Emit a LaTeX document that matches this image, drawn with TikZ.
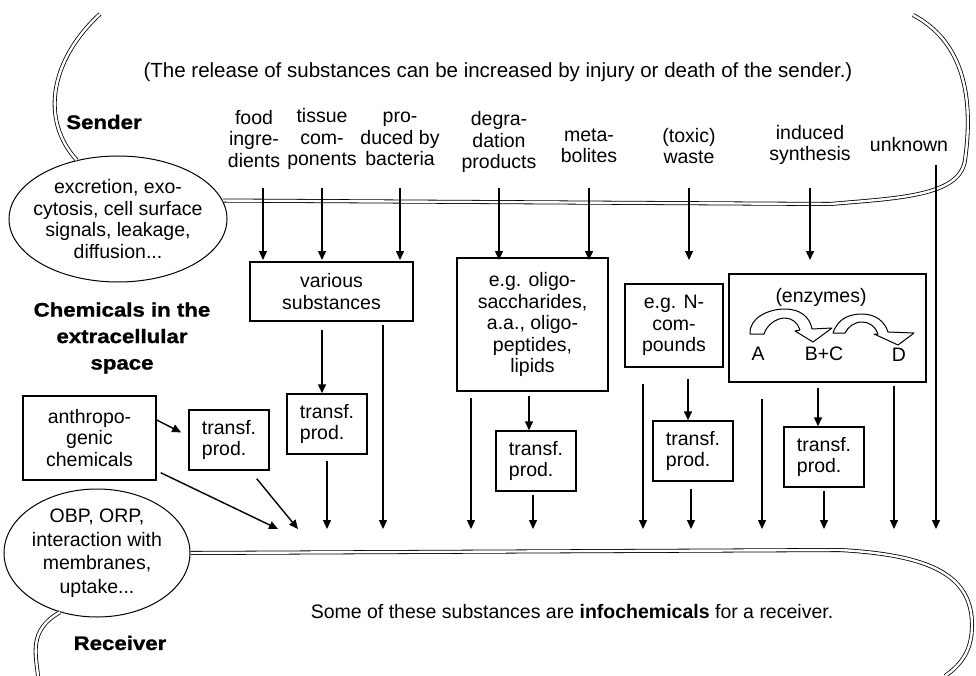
\documentclass[tikz,border=0pt]{standalone}
\usepackage{fontspec}
\setmainfont{Liberation Sans}
\newfontfamily\heavyfont{Liberation Sans}[FakeStretch=1.14, FakeBold=1.2]
\usetikzlibrary{arrows.meta,shapes.geometric}

\tikzset{
  txt/.style={align=center, inner sep=0pt, font=\fontsize{19.5}{21.5}\selectfont},
  head/.style={align=center, inner sep=0pt, font=\heavyfont\bfseries\fontsize{19.5}{26.5}\selectfont},
  box/.style={txt, draw, line width=1.4pt},
  tpbox/.style={box, align=left, minimum width=80pt, minimum height=60pt},
  arr/.style={line width=1.4pt, -{Triangle[length=9pt,width=8pt]}},
  membrane/.style={double, double distance=2.4pt, line width=0.8pt},
  cell/.style={draw, ellipse, line width=1pt, inner sep=0pt},
  swoop/.style={line width=1pt, fill=white, line join=round},
}

\begin{document}
\begin{tikzpicture}[x=1pt,y=-1pt]
\useasboundingbox (0,0) rectangle (976,676);

% sender and receiver cells
\node[cell, minimum width=218pt, minimum height=126pt] (sender) at (118,219) {};
\node[txt] (sendtxt) at (sender) {excretion, exo-\\cytosis, cell surface\\signals, leakage,\\diffusion...};
\node[cell, minimum width=186pt, minimum height=128pt] (receiver) at (97,553) {};
\node[txt, font=\fontsize{19.5}{23.5}\selectfont] (recvtxt) at (receiver) {OBP, ORP,\\interaction with\\membranes,\\uptake...};

\draw[membrane] (sender.125) .. controls (40,120) and (50,60) .. (100,14);
\draw[membrane] (sender.10) -- (830,204) .. controls (900,198) and (960,196) .. (965,160) .. controls (972,110) and (970,45) .. (913,15);
\draw[membrane] (receiver.east) -- (840,550) .. controls (930,555) and (972,575) .. (972,625) .. controls (972,650) and (962,664) .. (945,676);
\draw[membrane] (receiver.-122) .. controls (28,630) and (36,655) .. (38,676);

% titles
\node[txt, font=\fontsize{20.5}{22}\selectfont] (note) at (498,72) {(The release of substances can be increased by injury or death of the sender.)};
\node[head] (sendlbl) at (104,122) {Sender};
\node[head] (chem) at (122,338) {Chemicals in the\\extracellular\\space};
\node[head] (recvlbl) at (120,643) {Receiver};
\node[txt] (infolbl) at (572,612) {Some of these substances are \textbf{infochemicals} for a receiver.};

% sources
\node[txt] (food) at (254,139) {food\\ingre-\\dients};
\node[txt] (tissue) at (322,139) {tissue\\com-\\ponents};
\node[txt] (bact) at (400,139) {pro-\\duced by\\bacteria};
\node[txt] (degr) at (499,142) {degra-\\dation\\products};
\node[txt] (meta) at (589,146) {meta-\\bolites};
\node[txt] (waste) at (689,146) {(toxic)\\waste};
\node[txt] (induced) at (810,145) {induced\\synthesis};
\node[txt] (unknown) at (909,145) {unknown};

% boxes
\node[box, minimum width=163pt, minimum height=59pt] (various) at (331.5,291.5) {various\\substances};
\node[box, minimum width=151pt, minimum height=133pt] (oligo) at (532.5,324.5) {e.g. oligo-\\saccharides,\\a.a., oligo-\\peptides,\\lipids};
\node[box, minimum width=98pt, minimum height=83pt] (ncomp) at (674,325.5) {e.g. N-\\com-\\pounds};
\node[box, minimum width=197pt, minimum height=108pt] (enzymes) at (827.5,328) {};
\node[box, minimum width=133pt, minimum height=84pt] (anthro) at (89.5,438) {anthropo-\\genic\\chemicals};
\node[tpbox] (tp1) at (229,440) {transf.\\prod.};
\node[tpbox] (tp2) at (327,424) {transf.\\prod.};
\node[tpbox] (tp3) at (536,461) {transf.\\prod.};
\node[tpbox] (tp4) at (693,451) {transf.\\prod.};
\node[tpbox] (tp5) at (824,457) {transf.\\prod.};

% enzyme reactions
\node[txt] (enzlbl) at (821,297) {(enzymes)};
\node[txt] (subA) at (758,354) {A};
\node[txt] (subBC) at (824,354) {B+C};
\node[txt] (subD) at (899,355) {D};
\draw[swoop] (750,334) .. controls (749,318) and (768,309) .. (785,309) .. controls (800,309) and (810,317) .. (812,329) -- (832,328) -- (813,342) -- (795,331) -- (800,330) .. controls (798,323) and (792,318) .. (785,318) .. controls (776,318) and (767,325) .. (764,334) -- cycle;
\draw[swoop] (833,333) .. controls (838,318) and (850,314) .. (862,314) .. controls (876,314) and (885,322) .. (888,332) -- (914,333) -- (898,345) -- (874,334) -- (878,334) .. controls (875,326) and (869,322) .. (862,322) .. controls (854,322) and (848,327) .. (845,333) -- cycle;

% arrows
\coordinate (headtop) at (0,188); \coordinate (headend) at (0,260); \coordinate (floor) at (0,529);
\coordinate (f1) at ([xshift=9pt]food.center);
\foreach \n in {f1,tissue,bact,degr,meta,waste,induced}
  \draw[arr] (\n |- headtop) -- (\n |- headend);

\draw[arr, shorten <=8pt] (tissue |- various.south) -- (tissue |- tp2.north);
\draw[arr, shorten <=4pt] ([xshift=-3.5pt]oligo.south) -- ([xshift=-7pt]tp3.north);
\draw[arr, shorten <=11pt] ([xshift=14pt]ncomp.south) -- ([xshift=-5pt]tp4.north);
\draw[arr, shorten <=5pt] ([xshift=-9.5pt]enzymes.south) -- ([xshift=-6pt]tp5.north);
\draw[arr, shorten >=8pt] ([yshift=18pt]anthro.east) -- ([yshift=4pt]tp1.west);

\coordinate (t2) at ([yshift=-6pt]tp2.south);
\coordinate (t3) at ([xshift=-3pt,yshift=-3pt]tp3.south);
\coordinate (t4) at ([xshift=-2pt,yshift=-7pt]tp4.south);
\coordinate (t5) at ([yshift=-3pt]tp5.south);
\coordinate (d1) at ([xshift=51.5pt,yshift=-3pt]various.south);
\coordinate (d2) at ([xshift=-61.5pt,yshift=-6pt]oligo.south);
\coordinate (d3) at ([xshift=-31pt,yshift=-16pt]ncomp.south);
\coordinate (d4) at ([xshift=-65.5pt,yshift=-16pt]enzymes.south);
\coordinate (d5) at ([xshift=66.5pt,yshift=-3pt]enzymes.south);
\coordinate (u1) at ([xshift=27pt,yshift=-13pt]unknown.south);
\foreach \p in {t2,t3,t4,t5,d1,d2,d3,d4,d5,u1}
  \draw[arr] (\p) -- (\p |- floor);

\coordinate (in1) at (278,529); \coordinate (in2) at (298,529);
\draw[arr] ([xshift=4pt,yshift=8pt]anthro.south east) -- (in1);
\draw[arr] ([xshift=-13pt,yshift=-8pt]tp1.south east) -- (in2);
\end{tikzpicture}
\end{document}
